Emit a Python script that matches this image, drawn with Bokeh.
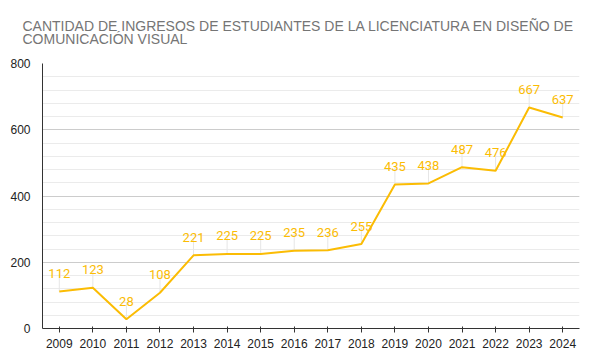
from bokeh.plotting import figure
from bokeh.models import FixedTicker, SingleIntervalTicker, ColumnDataSource
from bokeh.core.properties import value
from bokeh.embed import file_html
from bokeh.resources import INLINE

years = [2009, 2010, 2011, 2012, 2013, 2014, 2015, 2016, 2017, 2018,
         2019, 2020, 2021, 2022, 2023, 2024]
ingresos = [112, 123, 28, 108, 221, 225, 225, 235, 236, 255,
            435, 438, 487, 476, 667, 637]
title_text = "CANTIDAD DE INGRESOS DE ESTUDIANTES DE LA LICENCIATURA EN DISEÑO DE\nCOMUNICACIÓN VISUAL"
y_max = 800

COLOR = "#FBBC04"
W, H = 594, 363
ML, MR, MT, MB = 42, 15, 62, 35
frame_h = H - MT - MB
ppu = frame_h / y_max
lead = 17 / ppu

labels = [str(v) for v in ingresos]
src = ColumnDataSource(dict(x=years, y=ingresos, lab=labels,
                            y1=[v + lead for v in ingresos]))

p = figure(width=W, height=H, output_backend="svg", toolbar_location=None,
           x_range=(years[0] - 0.5, years[-1] + 0.5), y_range=(0, y_max),
           min_border_left=ML, min_border_right=MR, min_border_top=MT,
           min_border_bottom=MB, title=title_text)
p.outline_line_color = None
p.background_fill_color = "white"
p.border_fill_color = "white"

p.title.text_font = "Liberation Sans"
p.title.text_font_size = "14px"
p.title.text_font_style = "normal"
p.title.text_color = "#757575"
p.title.text_line_height = 0.83
p.title.align = "left"
p.title.offset = -20
p.title.standoff = 32

p.xgrid.grid_line_color = None
p.yaxis.ticker = SingleIntervalTicker(interval=200, num_minor_ticks=5)
p.ygrid.grid_line_color = "#cccccc"
p.ygrid.minor_grid_line_color = "#ebebeb"

p.xaxis.ticker = FixedTicker(ticks=years)
for ax in (p.xaxis, p.yaxis):
    ax.axis_line_color = "#333333"
    ax.major_label_text_font = "Liberation Sans"
    ax.major_label_text_font_size = "12px"
    ax.major_label_text_color = "#222222"
    ax.minor_tick_line_color = None
p.xaxis.major_tick_in = 2
p.xaxis.major_tick_out = 4
p.xaxis.major_tick_line_color = "#333333"
p.xaxis.major_label_standoff = 6
p.yaxis.major_tick_line_color = None
p.yaxis.major_label_standoff = 6

p.segment(x0="x", y0="y", x1="x", y1="y1", source=src, line_color="#e6e6e6", line_width=1)
p.line(x="x", y="y", source=src, line_color=COLOR, line_width=2)
p.text(x="x", y="y", text="lab", source=src, text_align="center",
       text_baseline="alphabetic", y_offset=-18, text_color=COLOR,
       text_font=value("Roboto"), text_font_size="13px")

open("out.html", "w").write(file_html(p, INLINE))
